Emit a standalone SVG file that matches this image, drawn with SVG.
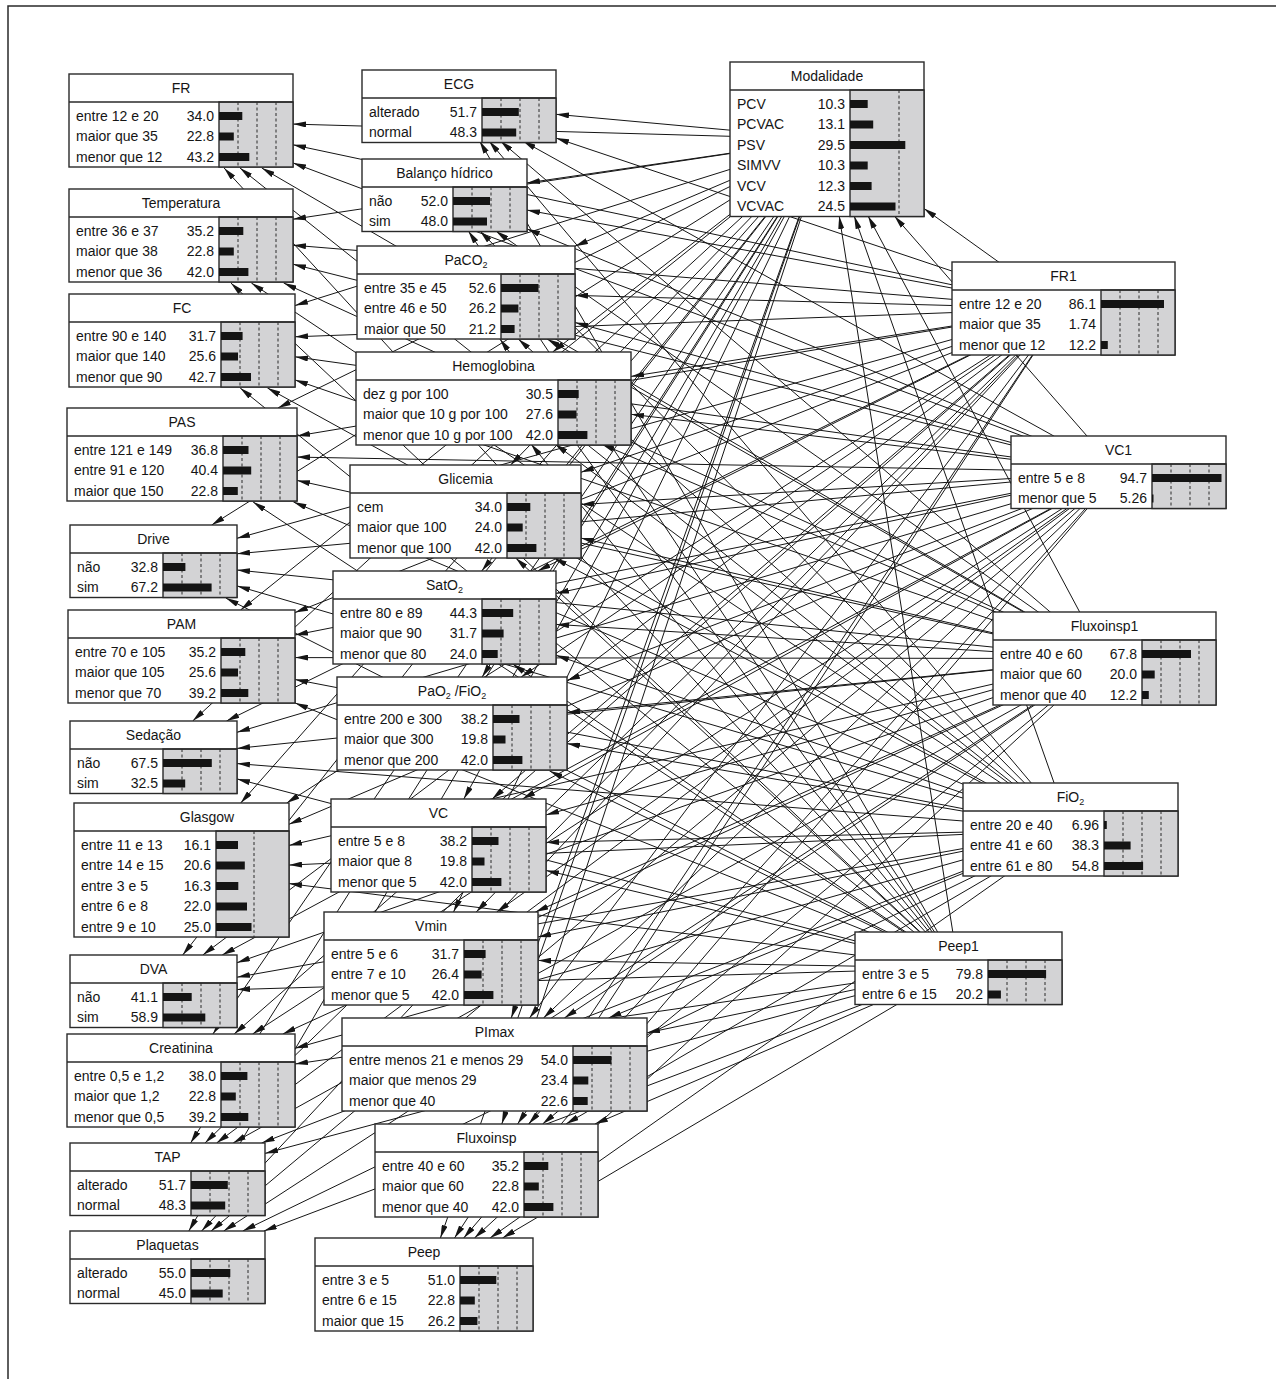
<svg xmlns="http://www.w3.org/2000/svg" width="1276" height="1379" viewBox="0 0 1276 1379">
<style>
.bx{fill:#fff;stroke:#2a2a2a;stroke-width:1.4}
.gy{fill:#d3d3d5;stroke:#2a2a2a;stroke-width:1.4}
.dv{stroke:#2a2a2a;stroke-width:1.4}
.ds{stroke:#2a2a2a;stroke-width:1;stroke-dasharray:3 2.5;fill:none}
.br{fill:#141414}
text{font-family:"Liberation Sans",Arial,sans-serif;font-size:14px;fill:#151515}
.tt{text-anchor:middle}
.vl{text-anchor:end}
.sb{font-size:9px}
.e path{fill:none;stroke:#151515;stroke-width:1;marker-end:url(#ah)}
</style>
<defs>
<marker id="ah" viewBox="0 0 13 6" refX="13" refY="3" markerWidth="13" markerHeight="6" orient="auto" markerUnits="userSpaceOnUse"><path d="M0 0L13 3L0 6z" fill="#151515"/></marker>
</defs>
<rect x="8" y="6" width="2000" height="2000" fill="#fff" stroke="#2a2a2a" stroke-width="1.5"/>
<g id="connectors" class="e">
<path d="M827 139L293 124.1"/><path d="M827 139L293 219.2"/><path d="M827 139L295 305.6"/><path d="M827 139L277.9 408"/><path d="M827 139L211.7 525"/><path d="M827 139L240.6 610"/><path d="M827 139L192.7 721"/><path d="M827 139L240.7 803"/><path d="M827 139L182.7 955"/><path d="M827 139L212.9 1034"/><path d="M827 139L190.6 1143"/><path d="M827 139L188.8 1231"/><path d="M827 139L556 114.3"/><path d="M827 139L527 182.9"/><path d="M827 139L575 246.2"/><path d="M827 139L552.7 352"/><path d="M827 139L510.6 465"/><path d="M827 139L481.7 571"/><path d="M827 139L482.1 677"/><path d="M827 139L463.8 799"/><path d="M827 139L453.5 912"/><path d="M827 139L511.2 1018"/><path d="M827 139L501.8 1124"/><path d="M827 139L440.4 1238"/>
<path d="M1063.5 308.5L293 144.8"/><path d="M1063.5 308.5L293 245.2"/><path d="M1063.5 308.5L295 336.8"/><path d="M1063.5 308.5L297 435.9"/><path d="M1063.5 308.5L237 538.3"/><path d="M1063.5 308.5L295 612.6"/><path d="M1063.5 308.5L226.5 721"/><path d="M1063.5 308.5L286.7 803"/><path d="M1063.5 308.5L202.8 955"/><path d="M1063.5 308.5L234.2 1034"/><path d="M1063.5 308.5L205 1143"/><path d="M1063.5 308.5L201.6 1231"/><path d="M1063.5 308.5L556 138.1"/><path d="M1063.5 308.5L527 210.1"/><path d="M1063.5 308.5L575 295.4"/><path d="M1063.5 308.5L631 376.4"/><path d="M1063.5 308.5L581 472.3"/><path d="M1063.5 308.5L537.7 571"/><path d="M1063.5 308.5L521.2 677"/><path d="M1063.5 308.5L492.1 799"/><path d="M1063.5 308.5L476.2 912"/><path d="M1063.5 308.5L529.5 1018"/><path d="M1063.5 308.5L517.6 1124"/><path d="M1063.5 308.5L454.5 1238"/><path d="M1063.5 308.5L924 208.5"/>
<path d="M1118.5 472L293 162.9"/><path d="M1118.5 472L293 264.2"/><path d="M1118.5 472L295 356.8"/><path d="M1118.5 472L297 457.1"/><path d="M1118.5 472L237 553.8"/><path d="M1118.5 472L295 635"/><path d="M1118.5 472L237 732.3"/><path d="M1118.5 472L289 824.3"/><path d="M1118.5 472L222.2 955"/><path d="M1118.5 472L252.6 1034"/><path d="M1118.5 472L216.6 1143"/><path d="M1118.5 472L211.1 1231"/><path d="M1118.5 472L522.9 141"/><path d="M1118.5 472L527 228.9"/><path d="M1118.5 472L575 322.5"/><path d="M1118.5 472L631 414.3"/><path d="M1118.5 472L581 504.5"/><path d="M1118.5 472L556 593.4"/><path d="M1118.5 472L567 680.5"/><path d="M1118.5 472L522.4 799"/><path d="M1118.5 472L496.7 912"/><path d="M1118.5 472L543.5 1018"/><path d="M1118.5 472L528.6 1124"/><path d="M1118.5 472L463.7 1238"/><path d="M1118.5 472L894.4 216"/>
<path d="M1104.5 658.5L261.8 168"/><path d="M1104.5 658.5L283.7 283"/><path d="M1104.5 658.5L295 379.9"/><path d="M1104.5 658.5L297 480.4"/><path d="M1104.5 658.5L237 570"/><path d="M1104.5 658.5L295 657.6"/><path d="M1104.5 658.5L237 748.4"/><path d="M1104.5 658.5L289 845.4"/><path d="M1104.5 658.5L237 962.7"/><path d="M1104.5 658.5L282.8 1034"/><path d="M1104.5 658.5L233.1 1143"/><path d="M1104.5 658.5L223.7 1231"/><path d="M1104.5 658.5L500.4 141"/><path d="M1104.5 658.5L495.8 231"/><path d="M1104.5 658.5L547.1 339"/><path d="M1104.5 658.5L601.4 444"/><path d="M1104.5 658.5L581 538.1"/><path d="M1104.5 658.5L556 624.4"/><path d="M1104.5 658.5L567 712.5"/><path d="M1104.5 658.5L546 814.9"/><path d="M1104.5 658.5L535.4 912"/><path d="M1104.5 658.5L564.4 1018"/><path d="M1104.5 658.5L542.6 1124"/><path d="M1104.5 658.5L474.5 1238"/><path d="M1104.5 658.5L868.1 216"/>
<path d="M1070.5 829.5L240 168"/><path d="M1070.5 829.5L251.4 283"/><path d="M1070.5 829.5L267.5 388"/><path d="M1070.5 829.5L293.5 502"/><path d="M1070.5 829.5L237 585.9"/><path d="M1070.5 829.5L295 679.5"/><path d="M1070.5 829.5L237 763.6"/><path d="M1070.5 829.5L289 865.1"/><path d="M1070.5 829.5L237 977.2"/><path d="M1070.5 829.5L295 1048.3"/><path d="M1070.5 829.5L261.7 1143"/><path d="M1070.5 829.5L242.8 1231"/><path d="M1070.5 829.5L489 141"/><path d="M1070.5 829.5L480 231"/><path d="M1070.5 829.5L518.3 339"/><path d="M1070.5 829.5L555 444"/><path d="M1070.5 829.5L554 558"/><path d="M1070.5 829.5L556 655.3"/><path d="M1070.5 829.5L567 743.6"/><path d="M1070.5 829.5L546 842.4"/><path d="M1070.5 829.5L538 936.9"/><path d="M1070.5 829.5L608.5 1018"/><path d="M1070.5 829.5L566 1124"/><path d="M1070.5 829.5L490.1 1238"/><path d="M1070.5 829.5L854.2 216"/>
<path d="M958.5 968L224.1 168"/><path d="M958.5 968L230.9 283"/><path d="M958.5 968L240.2 388"/><path d="M958.5 968L253.1 502"/><path d="M958.5 968L225.8 598"/><path d="M958.5 968L295 702.9"/><path d="M958.5 968L237 778.9"/><path d="M958.5 968L289 883.6"/><path d="M958.5 968L237 989.5"/><path d="M958.5 968L295 1064"/><path d="M958.5 968L265 1153.4"/><path d="M958.5 968L263.9 1231"/><path d="M958.5 968L479.6 141"/><path d="M958.5 968L468.4 231"/><path d="M958.5 968L499.9 339"/><path d="M958.5 968L531 444"/><path d="M958.5 968L515.7 558"/><path d="M958.5 968L512.7 664"/><path d="M958.5 968L549.6 771"/><path d="M958.5 968L546 870.4"/><path d="M958.5 968L538 960.4"/><path d="M958.5 968L647 1032.8"/><path d="M958.5 968L594.9 1124"/><path d="M958.5 968L502.5 1238"/><path d="M958.5 968L839.2 216"/>
</g>

<g id="node-fr" transform="translate(69,74)">
<rect class="bx" width="224" height="93"/><rect class="gy" x="150" y="28" width="74" height="65"/><line class="dv" x1="0" y1="28" x2="224" y2="28"/>
<path class="ds" d="M169 28V93M188 28V93M207 28V93"/>
<text class="tt" x="112" y="19">FR</text>
<text x="7" y="46.8">entre 12 e 20</text><text class="vl" x="145" y="46.8">34.0</text><rect class="br" x="150" y="38" width="23.3" height="8"/>
<text x="7" y="67.3">maior que 35</text><text class="vl" x="145" y="67.3">22.8</text><rect class="br" x="150" y="58.5" width="14.8" height="8"/>
<text x="7" y="87.8">menor que 12</text><text class="vl" x="145" y="87.8">43.2</text><rect class="br" x="150" y="79" width="30.3" height="8"/>
</g>

<g id="node-temperatura" transform="translate(69,189)">
<rect class="bx" width="224" height="93"/><rect class="gy" x="150" y="28" width="74" height="65"/><line class="dv" x1="0" y1="28" x2="224" y2="28"/>
<path class="ds" d="M169 28V93M188 28V93M207 28V93"/>
<text class="tt" x="112" y="19">Temperatura</text>
<text x="7" y="46.8">entre 36 e 37</text><text class="vl" x="145" y="46.8">35.2</text><rect class="br" x="150" y="38" width="24.3" height="8"/>
<text x="7" y="67.3">maior que 38</text><text class="vl" x="145" y="67.3">22.8</text><rect class="br" x="150" y="58.5" width="14.8" height="8"/>
<text x="7" y="87.8">menor que 36</text><text class="vl" x="145" y="87.8">42.0</text><rect class="br" x="150" y="79" width="29.4" height="8"/>
</g>

<g id="node-fc" transform="translate(69,294)">
<rect class="bx" width="226" height="93"/><rect class="gy" x="152" y="28" width="74" height="65"/><line class="dv" x1="0" y1="28" x2="226" y2="28"/>
<path class="ds" d="M171 28V93M190 28V93M209 28V93"/>
<text class="tt" x="113" y="19">FC</text>
<text x="7" y="46.8">entre 90 e 140</text><text class="vl" x="147" y="46.8">31.7</text><rect class="br" x="152" y="38" width="21.6" height="8"/>
<text x="7" y="67.3">maior que 140</text><text class="vl" x="147" y="67.3">25.6</text><rect class="br" x="152" y="58.5" width="17" height="8"/>
<text x="7" y="87.8">menor que 90</text><text class="vl" x="147" y="87.8">42.7</text><rect class="br" x="152" y="79" width="30" height="8"/>
</g>

<g id="node-pas" transform="translate(67,408)">
<rect class="bx" width="230" height="93"/><rect class="gy" x="156" y="28" width="74" height="65"/><line class="dv" x1="0" y1="28" x2="230" y2="28"/>
<path class="ds" d="M175 28V93M194 28V93M213 28V93"/>
<text class="tt" x="115" y="19">PAS</text>
<text x="7" y="46.8">entre 121 e 149</text><text class="vl" x="151" y="46.8">36.8</text><rect class="br" x="156" y="38" width="25.5" height="8"/>
<text x="7" y="67.3">entre 91 e 120</text><text class="vl" x="151" y="67.3">40.4</text><rect class="br" x="156" y="58.5" width="28.2" height="8"/>
<text x="7" y="87.8">maior que 150</text><text class="vl" x="151" y="87.8">22.8</text><rect class="br" x="156" y="79" width="14.8" height="8"/>
</g>

<g id="node-drive" transform="translate(70,525)">
<rect class="bx" width="167" height="72.5"/><rect class="gy" x="93" y="28" width="74" height="44.5"/><line class="dv" x1="0" y1="28" x2="167" y2="28"/>
<path class="ds" d="M112 28V72.5M131 28V72.5M150 28V72.5"/>
<text class="tt" x="83.5" y="19">Drive</text>
<text x="7" y="46.8">não</text><text class="vl" x="88" y="46.8">32.8</text><rect class="br" x="93" y="38" width="22.4" height="8"/>
<text x="7" y="67.3">sim</text><text class="vl" x="88" y="67.3">67.2</text><rect class="br" x="93" y="58.5" width="48.6" height="8"/>
</g>

<g id="node-pam" transform="translate(68,610)">
<rect class="bx" width="227" height="93"/><rect class="gy" x="153" y="28" width="74" height="65"/><line class="dv" x1="0" y1="28" x2="227" y2="28"/>
<path class="ds" d="M172 28V93M191 28V93M210 28V93"/>
<text class="tt" x="113.5" y="19">PAM</text>
<text x="7" y="46.8">entre 70 e 105</text><text class="vl" x="148" y="46.8">35.2</text><rect class="br" x="153" y="38" width="24.3" height="8"/>
<text x="7" y="67.3">maior que 105</text><text class="vl" x="148" y="67.3">25.6</text><rect class="br" x="153" y="58.5" width="17" height="8"/>
<text x="7" y="87.8">menor que 70</text><text class="vl" x="148" y="87.8">39.2</text><rect class="br" x="153" y="79" width="27.3" height="8"/>
</g>

<g id="node-sedacao" transform="translate(70,721)">
<rect class="bx" width="167" height="72.5"/><rect class="gy" x="93" y="28" width="74" height="44.5"/><line class="dv" x1="0" y1="28" x2="167" y2="28"/>
<path class="ds" d="M112 28V72.5M131 28V72.5M150 28V72.5"/>
<text class="tt" x="83.5" y="19">Sedação</text>
<text x="7" y="46.8">não</text><text class="vl" x="88" y="46.8">67.5</text><rect class="br" x="93" y="38" width="48.8" height="8"/>
<text x="7" y="67.3">sim</text><text class="vl" x="88" y="67.3">32.5</text><rect class="br" x="93" y="58.5" width="22.2" height="8"/>
</g>

<g id="node-glasgow" transform="translate(74,803)">
<rect class="bx" width="215" height="134"/><rect class="gy" x="142" y="28" width="73" height="106"/><line class="dv" x1="0" y1="28" x2="215" y2="28"/>
<path class="ds" d="M180 28V134"/>
<text class="tt" x="133" y="19">Glasgow</text>
<text x="7" y="46.8">entre 11 e 13</text><text class="vl" x="137" y="46.8">16.1</text><rect class="br" x="142" y="38" width="22" height="8"/>
<text x="7" y="67.3">entre 14 e 15</text><text class="vl" x="137" y="67.3">20.6</text><rect class="br" x="142" y="58.5" width="28.8" height="8"/>
<text x="7" y="87.8">entre 3 e 5</text><text class="vl" x="137" y="87.8">16.3</text><rect class="br" x="142" y="79" width="22.3" height="8"/>
<text x="7" y="108.3">entre 6 e 8</text><text class="vl" x="137" y="108.3">22.0</text><rect class="br" x="142" y="99.5" width="31" height="8"/>
<text x="7" y="128.8">entre 9 e 10</text><text class="vl" x="137" y="128.8">25.0</text><rect class="br" x="142" y="120" width="35.5" height="8"/>
</g>

<g id="node-dva" transform="translate(70,955)">
<rect class="bx" width="167" height="72.5"/><rect class="gy" x="93" y="28" width="74" height="44.5"/><line class="dv" x1="0" y1="28" x2="167" y2="28"/>
<path class="ds" d="M112 28V72.5M131 28V72.5M150 28V72.5"/>
<text class="tt" x="83.5" y="19">DVA</text>
<text x="7" y="46.8">não</text><text class="vl" x="88" y="46.8">41.1</text><rect class="br" x="93" y="38" width="28.7" height="8"/>
<text x="7" y="67.3">sim</text><text class="vl" x="88" y="67.3">58.9</text><rect class="br" x="93" y="58.5" width="42.3" height="8"/>
</g>

<g id="node-creatinina" transform="translate(67,1034)">
<rect class="bx" width="228" height="93"/><rect class="gy" x="154" y="28" width="74" height="65"/><line class="dv" x1="0" y1="28" x2="228" y2="28"/>
<path class="ds" d="M173 28V93M192 28V93M211 28V93"/>
<text class="tt" x="114" y="19">Creatinina</text>
<text x="7" y="46.8">entre 0,5 e 1,2</text><text class="vl" x="149" y="46.8">38.0</text><rect class="br" x="154" y="38" width="26.4" height="8"/>
<text x="7" y="67.3">maior que 1,2</text><text class="vl" x="149" y="67.3">22.8</text><rect class="br" x="154" y="58.5" width="14.8" height="8"/>
<text x="7" y="87.8">menor que 0,5</text><text class="vl" x="149" y="87.8">39.2</text><rect class="br" x="154" y="79" width="27.3" height="8"/>
</g>

<g id="node-tap" transform="translate(70,1143)">
<rect class="bx" width="195" height="72.5"/><rect class="gy" x="121" y="28" width="74" height="44.5"/><line class="dv" x1="0" y1="28" x2="195" y2="28"/>
<path class="ds" d="M140 28V72.5M159 28V72.5M178 28V72.5"/>
<text class="tt" x="97.5" y="19">TAP</text>
<text x="7" y="46.8">alterado</text><text class="vl" x="116" y="46.8">51.7</text><rect class="br" x="121" y="38" width="36.8" height="8"/>
<text x="7" y="67.3">normal</text><text class="vl" x="116" y="67.3">48.3</text><rect class="br" x="121" y="58.5" width="34.2" height="8"/>
</g>

<g id="node-plaquetas" transform="translate(70,1231)">
<rect class="bx" width="195" height="72.5"/><rect class="gy" x="121" y="28" width="74" height="44.5"/><line class="dv" x1="0" y1="28" x2="195" y2="28"/>
<path class="ds" d="M140 28V72.5M159 28V72.5M178 28V72.5"/>
<text class="tt" x="97.5" y="19">Plaquetas</text>
<text x="7" y="46.8">alterado</text><text class="vl" x="116" y="46.8">55.0</text><rect class="br" x="121" y="38" width="39.3" height="8"/>
<text x="7" y="67.3">normal</text><text class="vl" x="116" y="67.3">45.0</text><rect class="br" x="121" y="58.5" width="31.7" height="8"/>
</g>

<g id="node-ecg" transform="translate(362,70)">
<rect class="bx" width="194" height="72.5"/><rect class="gy" x="120" y="28" width="74" height="44.5"/><line class="dv" x1="0" y1="28" x2="194" y2="28"/>
<path class="ds" d="M139 28V72.5M158 28V72.5M177 28V72.5"/>
<text class="tt" x="97" y="19">ECG</text>
<text x="7" y="46.8">alterado</text><text class="vl" x="115" y="46.8">51.7</text><rect class="br" x="120" y="38" width="36.8" height="8"/>
<text x="7" y="67.3">normal</text><text class="vl" x="115" y="67.3">48.3</text><rect class="br" x="120" y="58.5" width="34.2" height="8"/>
</g>

<g id="node-balanco" transform="translate(362,159)">
<rect class="bx" width="165" height="72.5"/><rect class="gy" x="91" y="28" width="74" height="44.5"/><line class="dv" x1="0" y1="28" x2="165" y2="28"/>
<path class="ds" d="M110 28V72.5M129 28V72.5M148 28V72.5"/>
<text class="tt" x="82.5" y="19">Balanço hídrico</text>
<text x="7" y="46.8">não</text><text class="vl" x="86" y="46.8">52.0</text><rect class="br" x="91" y="38" width="37" height="8"/>
<text x="7" y="67.3">sim</text><text class="vl" x="86" y="67.3">48.0</text><rect class="br" x="91" y="58.5" width="34" height="8"/>
</g>

<g id="node-paco2" transform="translate(357,246)">
<rect class="bx" width="218" height="93"/><rect class="gy" x="144" y="28" width="74" height="65"/><line class="dv" x1="0" y1="28" x2="218" y2="28"/>
<path class="ds" d="M163 28V93M182 28V93M201 28V93"/>
<text class="tt" x="109" y="19">PaCO<tspan class="sb" dy="3">2</tspan></text>
<text x="7" y="46.8">entre 35 e 45</text><text class="vl" x="139" y="46.8">52.6</text><rect class="br" x="144" y="38" width="37.5" height="8"/>
<text x="7" y="67.3">entre 46 e 50</text><text class="vl" x="139" y="67.3">26.2</text><rect class="br" x="144" y="58.5" width="17.4" height="8"/>
<text x="7" y="87.8">maior que 50</text><text class="vl" x="139" y="87.8">21.2</text><rect class="br" x="144" y="79" width="13.6" height="8"/>
</g>

<g id="node-hemoglobina" transform="translate(356,352)">
<rect class="bx" width="275" height="93"/><rect class="gy" x="202" y="28" width="73" height="65"/><line class="dv" x1="0" y1="28" x2="275" y2="28"/>
<path class="ds" d="M221 28V93M240 28V93M259 28V93"/>
<text class="tt" x="137.5" y="19">Hemoglobina</text>
<text x="7" y="46.8">dez g por 100</text><text class="vl" x="197" y="46.8">30.5</text><rect class="br" x="202" y="38" width="20.7" height="8"/>
<text x="7" y="67.3">maior que 10 g por 100</text><text class="vl" x="197" y="67.3">27.6</text><rect class="br" x="202" y="58.5" width="18.5" height="8"/>
<text x="7" y="87.8">menor que 10 g por 100</text><text class="vl" x="197" y="87.8">42.0</text><rect class="br" x="202" y="79" width="29.4" height="8"/>
</g>

<g id="node-glicemia" transform="translate(350,465)">
<rect class="bx" width="231" height="93"/><rect class="gy" x="157" y="28" width="74" height="65"/><line class="dv" x1="0" y1="28" x2="231" y2="28"/>
<path class="ds" d="M176 28V93M195 28V93M214 28V93"/>
<text class="tt" x="115.5" y="19">Glicemia</text>
<text x="7" y="46.8">cem</text><text class="vl" x="152" y="46.8">34.0</text><rect class="br" x="157" y="38" width="23.3" height="8"/>
<text x="7" y="67.3">maior que 100</text><text class="vl" x="152" y="67.3">24.0</text><rect class="br" x="157" y="58.5" width="15.7" height="8"/>
<text x="7" y="87.8">menor que 100</text><text class="vl" x="152" y="87.8">42.0</text><rect class="br" x="157" y="79" width="29.4" height="8"/>
</g>

<g id="node-sato2" transform="translate(333,571)">
<rect class="bx" width="223" height="93"/><rect class="gy" x="149" y="28" width="74" height="65"/><line class="dv" x1="0" y1="28" x2="223" y2="28"/>
<path class="ds" d="M168 28V93M187 28V93M206 28V93"/>
<text class="tt" x="111.5" y="19">SatO<tspan class="sb" dy="3">2</tspan></text>
<text x="7" y="46.8">entre 80 e 89</text><text class="vl" x="144" y="46.8">44.3</text><rect class="br" x="149" y="38" width="31.2" height="8"/>
<text x="7" y="67.3">maior que 90</text><text class="vl" x="144" y="67.3">31.7</text><rect class="br" x="149" y="58.5" width="21.6" height="8"/>
<text x="7" y="87.8">menor que 80</text><text class="vl" x="144" y="87.8">24.0</text><rect class="br" x="149" y="79" width="15.7" height="8"/>
</g>

<g id="node-pao2fio2" transform="translate(337,677)">
<rect class="bx" width="230" height="93"/><rect class="gy" x="156" y="28" width="74" height="65"/><line class="dv" x1="0" y1="28" x2="230" y2="28"/>
<path class="ds" d="M175 28V93M194 28V93M213 28V93"/>
<text class="tt" x="115" y="19">PaO<tspan class="sb" dy="3">2</tspan><tspan dy="-3"> /FiO</tspan><tspan class="sb" dy="3">2</tspan></text>
<text x="7" y="46.8">entre 200 e 300</text><text class="vl" x="151" y="46.8">38.2</text><rect class="br" x="156" y="38" width="26.5" height="8"/>
<text x="7" y="67.3">maior que 300</text><text class="vl" x="151" y="67.3">19.8</text><rect class="br" x="156" y="58.5" width="12.5" height="8"/>
<text x="7" y="87.8">menor que 200</text><text class="vl" x="151" y="87.8">42.0</text><rect class="br" x="156" y="79" width="29.4" height="8"/>
</g>

<g id="node-vc" transform="translate(331,799)">
<rect class="bx" width="215" height="93"/><rect class="gy" x="141" y="28" width="74" height="65"/><line class="dv" x1="0" y1="28" x2="215" y2="28"/>
<path class="ds" d="M160 28V93M179 28V93M198 28V93"/>
<text class="tt" x="107.5" y="19">VC</text>
<text x="7" y="46.8">entre 5 e 8</text><text class="vl" x="136" y="46.8">38.2</text><rect class="br" x="141" y="38" width="26.5" height="8"/>
<text x="7" y="67.3">maior que 8</text><text class="vl" x="136" y="67.3">19.8</text><rect class="br" x="141" y="58.5" width="12.5" height="8"/>
<text x="7" y="87.8">menor que 5</text><text class="vl" x="136" y="87.8">42.0</text><rect class="br" x="141" y="79" width="29.4" height="8"/>
</g>

<g id="node-vmin" transform="translate(324,912)">
<rect class="bx" width="214" height="93"/><rect class="gy" x="140" y="28" width="74" height="65"/><line class="dv" x1="0" y1="28" x2="214" y2="28"/>
<path class="ds" d="M159 28V93M178 28V93M197 28V93"/>
<text class="tt" x="107" y="19">Vmin</text>
<text x="7" y="46.8">entre 5 e 6</text><text class="vl" x="135" y="46.8">31.7</text><rect class="br" x="140" y="38" width="21.6" height="8"/>
<text x="7" y="67.3">entre 7 e 10</text><text class="vl" x="135" y="67.3">26.4</text><rect class="br" x="140" y="58.5" width="17.6" height="8"/>
<text x="7" y="87.8">menor que 5</text><text class="vl" x="135" y="87.8">42.0</text><rect class="br" x="140" y="79" width="29.4" height="8"/>
</g>

<g id="node-pimax" transform="translate(342,1018)">
<rect class="bx" width="305" height="93"/><rect class="gy" x="231" y="28" width="74" height="65"/><line class="dv" x1="0" y1="28" x2="305" y2="28"/>
<path class="ds" d="M250 28V93M269 28V93M288 28V93"/>
<text class="tt" x="152.5" y="19">PImax</text>
<text x="7" y="46.8">entre menos 21 e menos 29</text><text class="vl" x="226" y="46.8">54.0</text><rect class="br" x="231" y="38" width="38.5" height="8"/>
<text x="7" y="67.3">maior que menos 29</text><text class="vl" x="226" y="67.3">23.4</text><rect class="br" x="231" y="58.5" width="15.3" height="8"/>
<text x="7" y="87.8">menor que 40</text><text class="vl" x="226" y="87.8">22.6</text><rect class="br" x="231" y="79" width="14.7" height="8"/>
</g>

<g id="node-fluxoinsp" transform="translate(375,1124)">
<rect class="bx" width="223" height="93"/><rect class="gy" x="149" y="28" width="74" height="65"/><line class="dv" x1="0" y1="28" x2="223" y2="28"/>
<path class="ds" d="M168 28V93M187 28V93M206 28V93"/>
<text class="tt" x="111.5" y="19">Fluxoinsp</text>
<text x="7" y="46.8">entre 40 e 60</text><text class="vl" x="144" y="46.8">35.2</text><rect class="br" x="149" y="38" width="24.3" height="8"/>
<text x="7" y="67.3">maior que 60</text><text class="vl" x="144" y="67.3">22.8</text><rect class="br" x="149" y="58.5" width="14.8" height="8"/>
<text x="7" y="87.8">menor que 40</text><text class="vl" x="144" y="87.8">42.0</text><rect class="br" x="149" y="79" width="29.4" height="8"/>
</g>

<g id="node-peep" transform="translate(315,1238)">
<rect class="bx" width="218" height="93"/><rect class="gy" x="145" y="28" width="73" height="65"/><line class="dv" x1="0" y1="28" x2="218" y2="28"/>
<path class="ds" d="M164 28V93M183 28V93M202 28V93"/>
<text class="tt" x="109" y="19">Peep</text>
<text x="7" y="46.8">entre 3 e 5</text><text class="vl" x="140" y="46.8">51.0</text><rect class="br" x="145" y="38" width="36.3" height="8"/>
<text x="7" y="67.3">entre 6 e 15</text><text class="vl" x="140" y="67.3">22.8</text><rect class="br" x="145" y="58.5" width="14.8" height="8"/>
<text x="7" y="87.8">maior que 15</text><text class="vl" x="140" y="87.8">26.2</text><rect class="br" x="145" y="79" width="17.4" height="8"/>
</g>

<g id="node-modalidade" transform="translate(730,62)">
<rect class="bx" width="194" height="154.5"/><rect class="gy" x="120" y="28" width="74" height="126.5"/><line class="dv" x1="0" y1="28" x2="194" y2="28"/>
<path class="ds" d="M169 28V154.5"/>
<text class="tt" x="97" y="19">Modalidade</text>
<text x="7" y="46.8">PCV</text><text class="vl" x="115" y="46.8">10.3</text><rect class="br" x="120" y="38" width="17.7" height="8"/>
<text x="7" y="67.3">PCVAC</text><text class="vl" x="115" y="67.3">13.1</text><rect class="br" x="120" y="58.5" width="23.2" height="8"/>
<text x="7" y="87.8">PSV</text><text class="vl" x="115" y="87.8">29.5</text><rect class="br" x="120" y="79" width="55.3" height="8"/>
<text x="7" y="108.3">SIMVV</text><text class="vl" x="115" y="108.3">10.3</text><rect class="br" x="120" y="99.5" width="17.7" height="8"/>
<text x="7" y="128.8">VCV</text><text class="vl" x="115" y="128.8">12.3</text><rect class="br" x="120" y="120" width="21.6" height="8"/>
<text x="7" y="149.3">VCVAC</text><text class="vl" x="115" y="149.3">24.5</text><rect class="br" x="120" y="140.5" width="45.5" height="8"/>
</g>

<g id="node-fr1" transform="translate(952,262)">
<rect class="bx" width="223" height="93"/><rect class="gy" x="149" y="28" width="74" height="65"/><line class="dv" x1="0" y1="28" x2="223" y2="28"/>
<path class="ds" d="M168 28V93M187 28V93M206 28V93"/>
<text class="tt" x="111.5" y="19">FR1</text>
<text x="7" y="46.8">entre 12 e 20</text><text class="vl" x="144" y="46.8">86.1</text><rect class="br" x="149" y="38" width="63" height="8"/>
<text x="7" y="67.3">maior que 35</text><text class="vl" x="144" y="67.3">1.74</text>
<text x="7" y="87.8">menor que 12</text><text class="vl" x="144" y="87.8">12.2</text><rect class="br" x="149" y="79" width="6.8" height="8"/>
</g>

<g id="node-vc1" transform="translate(1011,436)">
<rect class="bx" width="215" height="72.5"/><rect class="gy" x="141" y="28" width="74" height="44.5"/><line class="dv" x1="0" y1="28" x2="215" y2="28"/>
<path class="ds" d="M160 28V72.5M179 28V72.5M198 28V72.5"/>
<text class="tt" x="107.5" y="19">VC1</text>
<text x="7" y="46.8">entre 5 e 8</text><text class="vl" x="136" y="46.8">94.7</text><rect class="br" x="141" y="38" width="69.5" height="8"/>
<text x="7" y="67.3">menor que 5</text><text class="vl" x="136" y="67.3">5.26</text><rect class="br" x="141" y="58.5" width="1.5" height="8"/>
</g>

<g id="node-fluxoinsp1" transform="translate(993,612)">
<rect class="bx" width="223" height="93"/><rect class="gy" x="149" y="28" width="74" height="65"/><line class="dv" x1="0" y1="28" x2="223" y2="28"/>
<path class="ds" d="M168 28V93M187 28V93M206 28V93"/>
<text class="tt" x="111.5" y="19">Fluxoinsp1</text>
<text x="7" y="46.8">entre 40 e 60</text><text class="vl" x="144" y="46.8">67.8</text><rect class="br" x="149" y="38" width="49" height="8"/>
<text x="7" y="67.3">maior que 60</text><text class="vl" x="144" y="67.3">20.0</text><rect class="br" x="149" y="58.5" width="12.7" height="8"/>
<text x="7" y="87.8">menor que 40</text><text class="vl" x="144" y="87.8">12.2</text><rect class="br" x="149" y="79" width="6.8" height="8"/>
</g>

<g id="node-fio2" transform="translate(963,783)">
<rect class="bx" width="215" height="93"/><rect class="gy" x="141" y="28" width="74" height="65"/><line class="dv" x1="0" y1="28" x2="215" y2="28"/>
<path class="ds" d="M160 28V93M179 28V93M198 28V93"/>
<text class="tt" x="107.5" y="19">FiO<tspan class="sb" dy="3">2</tspan></text>
<text x="7" y="46.8">entre 20 e 40</text><text class="vl" x="136" y="46.8">6.96</text><rect class="br" x="141" y="38" width="2.8" height="8"/>
<text x="7" y="67.3">entre 41 e 60</text><text class="vl" x="136" y="67.3">38.3</text><rect class="br" x="141" y="58.5" width="26.6" height="8"/>
<text x="7" y="87.8">entre 61 e 80</text><text class="vl" x="136" y="87.8">54.8</text><rect class="br" x="141" y="79" width="39.1" height="8"/>
</g>

<g id="node-peep1" transform="translate(855,932)">
<rect class="bx" width="207" height="72.5"/><rect class="gy" x="133" y="28" width="74" height="44.5"/><line class="dv" x1="0" y1="28" x2="207" y2="28"/>
<path class="ds" d="M152 28V72.5M171 28V72.5M190 28V72.5"/>
<text class="tt" x="103.5" y="19">Peep1</text>
<text x="7" y="46.8">entre 3 e 5</text><text class="vl" x="128" y="46.8">79.8</text><rect class="br" x="133" y="38" width="58.1" height="8"/>
<text x="7" y="67.3">entre 6 e 15</text><text class="vl" x="128" y="67.3">20.2</text><rect class="br" x="133" y="58.5" width="12.9" height="8"/>
</g>
</svg>
